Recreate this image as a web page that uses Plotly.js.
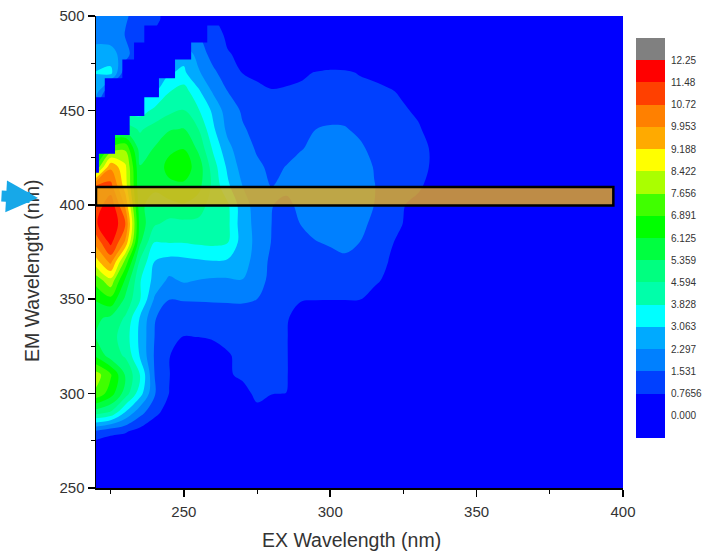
<!DOCTYPE html>
<html>
<head>
<meta charset="utf-8">
<script src="https://cdn.plot.ly/plotly-3.0.1.min.js"></script>
<style>html,body{margin:0;padding:0;background:#fff}</style>
</head>
<body>
<div id="chart" style="width:705px;height:556px"></div>
<script>
const exWavelength = [220,225,230,235,240,245,250,255,260,265,270,275,280,285,290,295,300,305,310,315,320,325,330,335,340,400];
const emWavelength = [500,490,480,470,460,450,440,430,420,410,400,390,380,370,360,350,340,330,320,310,300,290,280,270,260,250];

const em500 = [1.8,1.9,1.6,1.3,0.95,0.6,0,0,0.8,0.2,0,0,0,0,0,0,0,0,0,0,0,0,0,0,0,0];
const em490 = [2.0,1.9,1.5,1.0,0.7,0,1.5,1.5,1.4,0.5,0,0,0,0,0,0,0,0,0,0,0,0,0,0,0,0];
const em480 = [2.6,2.6,1.9,0.7,0,2.8,2.8,2.0,1.2,0.85,0.5,0,0,0,0,0,0,0,0,0,0,0,0,0,0,0];
const em470 = [3.1,3.3,1.0,0,3.0,3.0,3.2,2.4,1.7,1.1,0.75,0.6,0.55,0.55,0.65,0.8,0.9,0.88,0.72,0.6,0.4,0.2,0,0,0,0];
const em460 = [2.6,0.7,0,3.0,3.0,3.8,4.2,3.2,2.2,1.53,1.2,0.95,0.8,0.85,0.9,0.95,1.05,1.05,1.0,0.95,0.85,0.65,0.45,0.2,0,0];
const em450 = [1.5,0,3.5,3.5,4.0,4.4,4.6,3.9,2.9,1.9,1.45,1.2,1.05,1.1,1.2,1.25,1.3,1.3,1.25,1.15,1.05,0.85,0.65,0.3,0,0];
const em440 = [0,5.0,5.0,4.5,4.9,5.3,5.4,4.6,3.2,2.1,1.6,1.35,1.2,1.25,1.35,1.53,1.6,1.58,1.4,1.25,1.15,1.0,0.85,0.5,0,0];
const em430 = [5.0,7.0,7.5,5.0,5.4,6.0,6.1,5.2,3.7,2.5,1.85,1.45,1.25,1.35,1.5,1.65,1.75,1.75,1.65,1.35,1.2,1.1,0.95,0.7,0,0];
const em420 = [7.0,9.8,8.6,5.4,5.8,6.3,6.5,5.8,4.2,2.9,2.0,1.65,1.4,1.55,1.7,1.8,1.9,1.92,1.85,1.5,1.3,1.1,0.95,0.7,0,0];
const em410 = [10.8,11.0,8.8,5.5,5.6,6.0,6.0,5.6,4.4,3.2,2.3,1.75,1.53,1.65,1.8,1.88,1.95,1.95,1.9,1.55,1.3,1.05,0.9,0.5,0,0];
const em400 = [11.0,12.0,9.8,5.6,4.9,5.1,5.3,5.0,4.2,3.95,2.6,2.0,1.55,1.42,1.65,1.8,1.85,1.85,1.8,1.53,1.2,0.8,0.55,0.2,0,0];
const em390 = [11.4,12.2,10.8,5.8,4.7,4.4,4.4,4.4,4.1,4.0,2.6,2.1,1.53,1.3,1.55,1.75,1.85,1.85,1.7,1.4,1.05,0.75,0.4,0,0,0];
const em380 = [10.2,11.7,9.8,5.5,3.8,3.85,3.85,3.95,4.0,3.85,2.7,2.1,1.5,1.25,1.3,1.5,1.6,1.7,1.53,1.25,0.85,0.6,0.2,0,0,0];
const em370 = [8.9,10.2,7.4,4.5,3.06,2.8,2.85,2.95,3.03,2.95,2.6,2.0,1.35,1.15,1.1,1.2,1.3,1.4,1.35,1.15,0.75,0.55,0.1,0,0,0];
const em360 = [7.2,8.2,6.0,3.9,2.8,2.15,2.4,2.28,2.2,2.2,2.28,1.8,1.35,1.05,0.95,0.95,1.0,1.05,1.05,0.9,0.6,0.4,0,0,0,0];
const em350 = [6.2,6.7,5.2,3.9,2.2,1.55,1.6,1.6,1.6,1.6,1.6,1.53,1.1,0.9,0.82,0.8,0.8,0.8,0.8,0.5,0.2,0,0,0,0,0];
const em340 = [5.5,5.2,4.5,3.0,1.6,1.0,1.0,1.1,1.2,1.25,1.3,1.1,0.9,0.85,0.4,0.2,0,0,0,0,0,0,0,0,0,0];
const em330 = [5.3,4.9,4.2,2.9,1.53,0.9,0.75,0.77,0.87,0.95,1.0,0.95,0.85,0.85,0,0,0,0,0,0,0,0,0,0,0,0];
const em320 = [6.0,5.0,4.5,3.0,1.45,0.8,0.3,0.2,0.3,0.7,0.95,0.95,0.9,0.85,0,0,0,0,0,0,0,0,0,0,0,0];
const em310 = [8.0,7.0,5.3,3.9,1.53,0.8,0.1,0,0,0.65,0.95,0.95,0.9,0.85,0,0,0,0,0,0,0,0,0,0,0,0];
const em300 = [7.5,6.5,5.0,3.4,1.6,0.75,0,0,0,0,0.4,1.0,0.78,0.76,0,0,0,0,0,0,0,0,0,0,0,0];
const em290 = [4.9,4.5,3.0,1.8,1.0,0.4,0,0,0,0,0,0.5,0.45,0,0,0,0,0,0,0,0,0,0,0,0,0];
const em280 = [1.4,1.0,0.85,0.5,0.1,0,0,0,0,0,0,0,0,0,0,0,0,0,0,0,0,0,0,0,0,0];
const em270 = [0,0,0,0,0,0,0,0,0,0,0,0,0,0,0,0,0,0,0,0,0,0,0,0,0,0];
const em260 = [0,0,0,0,0,0,0,0,0,0,0,0,0,0,0,0,0,0,0,0,0,0,0,0,0,0];
const em250 = [0,0,0,0,0,0,0,0,0,0,0,0,0,0,0,0,0,0,0,0,0,0,0,0,0,0];

const intensity = [em500,em490,em480,em470,em460,em450,em440,em430,em420,em410,em400,em390,em380,em370,em360,em350,em340,em330,em320,em310,em300,em290,em280,em270,em260,em250];

// Masked (no-signal) staircase between the scatter lines, read as corner points
const maskEx = [220,221,221,226.5,226.5,231.5,231.5,236.5,236.5,241.5,241.5,247,247,252.5,252.5,258,258,263,263,242,242,236.5,236.5,233,233,229,229,223,223,220];
const maskEm = [417,417,427,427,437,437,447,447,457,457,467,467,477,477,486,486,495,495,500,500,495,495,486,486,477,477,467,467,457,457];

const levelValues = [0,0.765625,1.53125,2.296875,3.0625,3.828125,4.59375,5.359375,6.125,6.890625,7.65625,8.421875,9.1875,9.953125,10.71875,11.484375,12.25];
const levelLabels = ["0.000","0.7656","1.531","2.297","3.063","3.828","4.594","5.359","6.125","6.891","7.656","8.422","9.188","9.953","10.72","11.48","12.25"];
const bandColors = ["#0000ff","#0000ff","#0040ff","#0080ff","#00aaff","#00ffff","#00ffaa","#00ff80","#00ff40","#00ff00","#40ff00","#aaff00","#ffff00","#ffaa00","#ff8000","#ff4000","#ff0000","#808080"];
const barEdges = [-0.765625].concat(levelValues, [13.015625]);
const barBands = bandColors.map((c, i) => [i]);

const plotL = 96, plotR = 623, plotT = 16, plotB = 488, paperR = 700;
const paperW = paperR - plotL;
const px = v => (v - plotL) / paperW;
const py = v => (plotB - v) / (plotB - plotT);

const font = "'Liberation Sans', Arial, sans-serif";

// plateau colour scale: each colour owns one full step
const n = bandColors.length - 1;
const stepScale = [];
bandColors.forEach((c, i) => { stepScale.push([Math.min(i / n, 1), c]); if (i < n) stepScale.push([(i + 1) / n - 1e-6, c]); });
stepScale[stepScale.length - 1][0] = 1;

const contourTrace = {
  type: "contour", x: exWavelength, y: emWavelength, z: intensity,
  autocontour: false,
  contours: {start: 0, end: 12.25, size: 0.765625, coloring: "fill", showlines: false},
  line: {width: 0, smoothing: 1.0},
  colorscale: stepScale, showscale: false, hoverinfo: "skip"
};
const barTrace = {
  type: "heatmap", xaxis: "x2", yaxis: "y2",
  x: [0, 1], y: barEdges, z: barBands,
  colorscale: bandColors.map((c, i) => [i / n, c]), zmin: 0, zmax: n,
  showscale: false, hoverinfo: "skip"
};

const axisBase = {
  showgrid: false, zeroline: false,
  showline: true, linecolor: "#000", linewidth: 1.5,
  ticks: "outside", ticklen: 7, tickwidth: 1.5, tickcolor: "#000",
  tickmode: "array", tickvals: [250,300,350,400,450,500],
  tickfont: {family: font, size: 15, color: "#333"},
  minor: {ticks: "outside", ticklen: 4, tickwidth: 1, tickcolor: "#000", tickmode: "array", tickvals: [225,275,325,375,425,475]}
};

const layout = {
  width: 705, height: 556, autosize: false,
  margin: {l: plotL, r: 705 - paperR, t: plotT, b: 556 - plotB, pad: 0},
  paper_bgcolor: "#fff", plot_bgcolor: "#0000ff",
  xaxis: Object.assign({}, axisBase, {range: [220, 400], domain: [0, px(plotR)], anchor: "y", ticklabelstandoff: 2}),
  yaxis: Object.assign({}, axisBase, {range: [250, 500], anchor: "x"}),
  xaxis2: {domain: [px(636), px(665)], range: [0, 1], visible: false, anchor: "y2", fixedrange: true},
  yaxis2: {
    domain: [py(438), py(38)], range: [-0.765625, 13.015625], anchor: "x2", side: "right",
    showgrid: false, zeroline: false, showline: false, ticks: "",
    tickmode: "array", tickvals: levelValues, ticktext: levelLabels,
    tickfont: {family: font, size: 10, color: "#333"}, ticklabelstandoff: 5
  },
  shapes: [
    {type: "path", xref: "x", yref: "y", layer: "above", fillcolor: "#0000ff", line: {width: 0},
     path: "M" + maskEx.map((v, i) => v + "," + maskEm[i]).join("L") + "Z"},
    {type: "rect", xref: "x", yref: "y", x0: 220, x1: 396.7, y0: 399.6, y1: 409.4,
     fillcolor: "rgba(238,175,25,0.8)", line: {color: "#000", width: 2.5}, layer: "above"}
  ],
  annotations: [
    {text: "EX Wavelength (nm)", xref: "paper", yref: "paper", x: px(351), y: py(540), showarrow: false,
     xanchor: "center", yanchor: "middle", font: {family: font, size: 19.5, color: "#333"}},
    {text: "EM Wavelength (nm)", xref: "paper", yref: "paper", x: px(32), y: py(271), showarrow: false,
     xanchor: "center", yanchor: "middle", textangle: -90, font: {family: font, size: 19.5, color: "#333"}},
    {text: "", xref: "paper", yref: "paper", x: px(38), y: py(198), axref: "pixel", ayref: "pixel", ax: -38, ay: -2,
     showarrow: true, arrowhead: 2, arrowsize: 0.58, arrowwidth: 11, arrowcolor: "#17a8e8", standoff: 0, startstandoff: 0}
  ],
  showlegend: false
};

Plotly.newPlot("chart", [contourTrace, barTrace], layout, {displayModeBar: false, staticPlot: true});
</script>
</body>
</html>
